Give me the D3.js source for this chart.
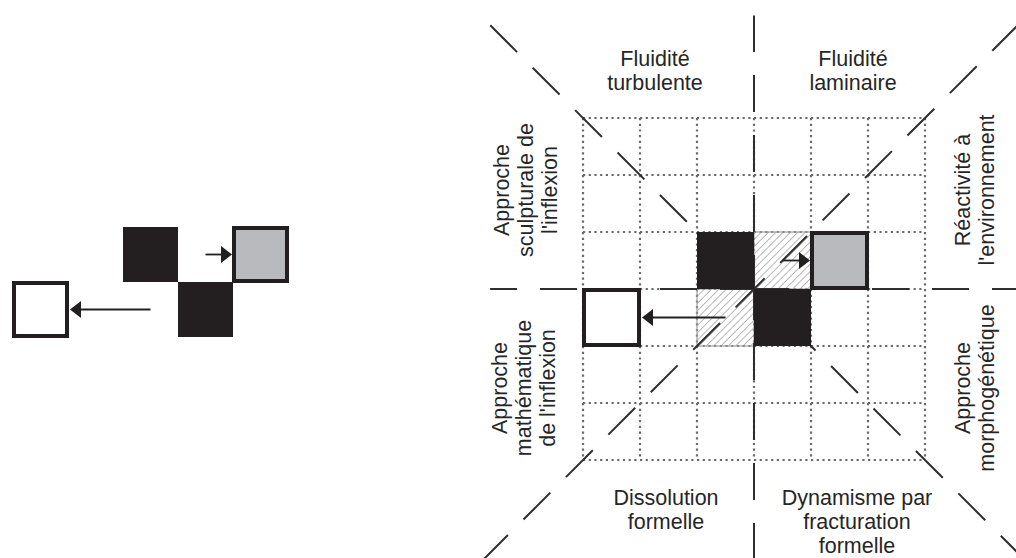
<!DOCTYPE html>
<html><head><meta charset="utf-8">
<script src="https://cdn.jsdelivr.net/npm/d3@7"></script>
<style>
body{margin:0;background:#fff}
svg{display:block;background:#fff}
text{font-family:"Liberation Sans",Arial,Helvetica,sans-serif;font-size:21.5px;fill:#262626}
</style>
</head><body>
<svg id="chart" width="1016" height="558"></svg>
<script>
// ---- data (grid units: column, row) ----
const gridSteps = [0, 1, 2, 3, 4, 5, 6];
const blackCells = [[2, 2], [3, 3]];
const hatchedCells = [[3, 2], [2, 3]];
const grayCells = [[4, 2]];
const whiteCells = [[0, 3]];
const arrowLinks = [
  { from: [2, 3], to: [0, 3], side: "right" },
  { from: [3, 2], to: [4, 2], side: "left" }
];
// arms of the dashed cross / diagonals, from the centre, length in grid units
const axisArms = [
  { dx: 0, dy: -1, len: 4.8, off: 3 },
  { dx: 0, dy: 1, len: 5, off: 6 },
  { dx: -1, dy: 0, len: 4.63, off: 3 },
  { dx: 1, dy: 0, len: 5, off: 2 }
];
const diagArms = [
  { dx: -1, dy: -1, len: 4.8, off: 25 },
  { dx: 1, dy: -1, len: 5, off: 23 },
  { dx: 1, dy: 1, len: 5, off: 11 },
  { dx: -1, dy: 1, len: 5, off: 12 }
];
const topLabels = [
  { lines: ["Fluidité", "turbulente"], side: -1 },
  { lines: ["Fluidité", "laminaire"], side: 1 }
];
const bottomLabels = [
  { lines: ["Dissolution", "formelle"], side: -1 },
  { lines: ["Dynamisme par", "fracturation", "formelle"], side: 1 }
];
const leftLabels = [
  { lines: ["Approche", "sculpturale de", "l'inflexion"], side: -1 },
  { lines: ["Approche", "mathématique", "de l'inflexion"], side: 1 }
];
const rightLabels = [
  { lines: ["Réactivité à", "l'environnement"], side: -1 },
  { lines: ["Approche", "morphogénétique"], side: 1 }
];

// ---- scales ----
const xR = d3.scaleLinear().domain([0, 6]).range([583, 925]);
const yR = d3.scaleLinear().domain([0, 6]).range([118, 460]);
const xL = d3.scaleLinear().domain([0, 6]).range([13, 343]);
const yL = d3.scaleLinear().domain([0, 6]).range([117, 447]);

const svg = d3.select("#chart");
const ink = "#231f20";

const defs = svg.append("defs");
const pat = defs.append("pattern").attr("id", "hatch")
  .attr("patternUnits", "userSpaceOnUse").attr("width", 5.2).attr("height", 5.2)
  .attr("patternTransform", "rotate(45)");
pat.append("line").attr("x1", 0).attr("y1", 0).attr("x2", 0).attr("y2", 5.2)
  .attr("stroke", "#808080").attr("stroke-width", 1.1);

// ---- right diagram: dotted grid ----
const gR = svg.append("g");
gR.selectAll("line.gv").data(gridSteps).join("line").attr("class", "gv")
  .attr("x1", d => xR(d)).attr("x2", d => xR(d))
  .attr("y1", yR(0)).attr("y2", yR(6))
  .attr("stroke", "#6a6a6a").attr("stroke-width", 2.2).attr("stroke-dasharray", "2.2 3.5");
gR.selectAll("line.gh").data(gridSteps).join("line").attr("class", "gh")
  .attr("y1", d => yR(d)).attr("y2", d => yR(d))
  .attr("x1", xR(0)).attr("x2", xR(6))
  .attr("stroke", "#6a6a6a").attr("stroke-width", 2.2).attr("stroke-dasharray", "2.2 3.5");

// hatched cells
const unitR = xR(1) - xR(0);
gR.selectAll("rect.hatch").data(hatchedCells).join("rect").attr("class", "hatch")
  .attr("x", d => xR(d[0])).attr("y", d => yR(d[1]))
  .attr("width", unitR).attr("height", unitR)
  .attr("fill", "url(#hatch)").attr("stroke", "#a0a0a0").attr("stroke-width", 1.2);

// dashed cross and diagonals
const cx = xR(3), cy = yR(3);
gR.selectAll("line.arm").data(axisArms).join("line").attr("class", "arm")
  .attr("x1", cx).attr("y1", cy)
  .attr("x2", d => cx + d.dx * d.len * unitR).attr("y2", d => cy + d.dy * d.len * unitR)
  .attr("stroke", "#2e2e2e").attr("stroke-width", 2)
  .attr("stroke-dasharray", "37 23").attr("stroke-dashoffset", d => d.off);
gR.selectAll("line.diag").data(diagArms).join("line").attr("class", "diag")
  .attr("x1", cx).attr("y1", cy)
  .attr("x2", d => cx + d.dx * d.len * unitR).attr("y2", d => cy + d.dy * d.len * unitR)
  .attr("stroke", "#2e2e2e").attr("stroke-width", 2)
  .attr("stroke-dasharray", "38 22").attr("stroke-dashoffset", d => d.off);

// ---- squares and arrows, for both diagrams ----
function drawBlocks(g, xs, ys) {
  const u = xs(1) - xs(0);
  g.selectAll("rect.black").data(blackCells).join("rect").attr("class", "black")
    .attr("x", d => xs(d[0])).attr("y", d => ys(d[1]))
    .attr("width", u).attr("height", u).attr("fill", ink);
  g.selectAll("rect.gray").data(grayCells).join("rect").attr("class", "gray")
    .attr("x", d => xs(d[0]) + 1).attr("y", d => ys(d[1]) + 1)
    .attr("width", u - 2).attr("height", u - 2)
    .attr("fill", "#b9babd").attr("stroke", ink).attr("stroke-width", 4);
  g.selectAll("rect.white").data(whiteCells).join("rect").attr("class", "white")
    .attr("x", d => xs(d[0]) + 1).attr("y", d => ys(d[1]) + 1)
    .attr("width", u - 2).attr("height", u - 2)
    .attr("fill", "#fff").attr("stroke", ink).attr("stroke-width", 4);
  const arr = arrowLinks.map(a => {
    const sx = xs(a.from[0] + 0.5), sy = ys(a.from[1] + 0.5);
    const tx = a.side === "right" ? xs(a.to[0] + 1) + 2 : xs(a.to[0]) - 1;
    const dir = a.side === "right" ? 1 : -1;
    return { sx, sy, tx, ty: ys(a.to[1] + 0.5), dir };
  });
  g.selectAll("line.arr").data(arr).join("line").attr("class", "arr")
    .attr("x1", d => d.sx).attr("y1", d => d.sy)
    .attr("x2", d => d.tx + d.dir * 6).attr("y2", d => d.ty)
    .attr("stroke", ink).attr("stroke-width", 1.8);
  g.selectAll("path.head").data(arr).join("path").attr("class", "head")
    .attr("d", d => `M${d.tx},${d.ty} L${d.tx + d.dir * 11},${d.ty - 8.5} L${d.tx + d.dir * 11},${d.ty + 8.5} Z`)
    .attr("fill", ink);
}
drawBlocks(gR.append("g"), xR, yR);
drawBlocks(svg.append("g"), xL, yL);

// ---- labels ----
const lh = 24;
const gt = svg.append("g");
function hLabel(lbl, x, y0) {
  const t = gt.append("text").attr("text-anchor", "middle");
  lbl.lines.forEach((s, i) => t.append("tspan").attr("x", x).attr("y", y0 + i * lh).text(s));
}
function vLabel(lbl, x0, yc) {
  const t = gt.append("text").attr("text-anchor", "middle")
    .attr("transform", `translate(${x0},${yc}) rotate(-90)`);
  lbl.lines.forEach((s, i) => t.append("tspan").attr("x", 0).attr("y", i * lh).text(s));
}
topLabels.forEach(l => hLabel(l, cx + l.side * 99, 66));
bottomLabels.forEach(l => hLabel(l, cx + l.side * (l.side < 0 ? 88 : 103), 505));
leftLabels.forEach(l => vLabel(l, l.side < 0 ? 509 : 507, cy + l.side * 99));
rightLabels.forEach(l => vLabel(l, 970, cy + l.side * 99));
</script>
</body></html>
